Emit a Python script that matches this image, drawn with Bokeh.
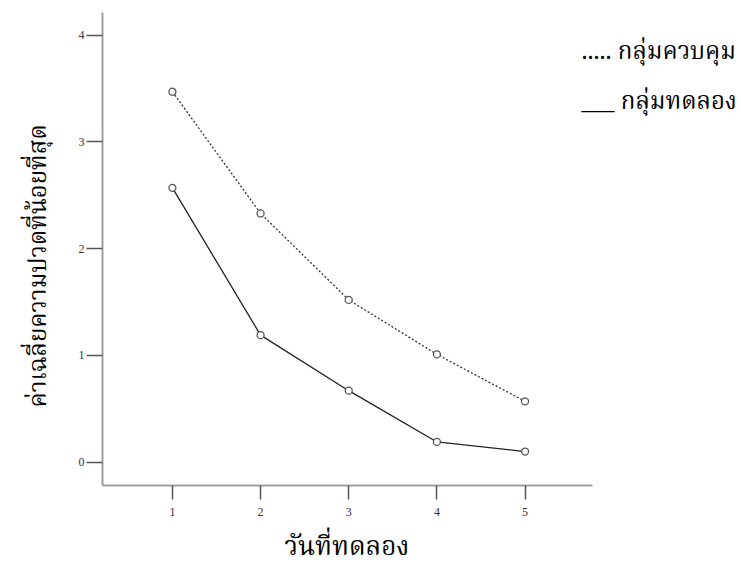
from bokeh.plotting import figure
from bokeh.models import Range1d, FixedTicker, Label, Title
from bokeh.embed import file_html
from bokeh.resources import INLINE

days = [1, 2, 3, 4, 5]
control = [3.47, 2.33, 1.52, 1.01, 0.57]
experiment = [2.57, 1.19, 0.67, 0.19, 0.10]
x_ticks = [1, 2, 3, 4, 5]
y_ticks = [0, 1, 2, 3, 4]
x_title = "วันที่ทดลอง"
y_title = "ค่าเฉลี่ยความปวดที่น้อยที่สุด"
legend_control = "..... กลุ่มควบคุม"
legend_exp = "___ กลุ่มทดลอง"

SERIF = "'Liberation Serif', 'Times New Roman', serif"
THAI = "Norasi, 'Noto Serif Thai', 'TH Sarabun New', 'Liberation Serif', serif"

X0, X1 = 0.207, 5.77
PX_PER_UNIT = 88.3
FRAME_W = 741 - 101
x_end = X0 + FRAME_W / PX_PER_UNIT

p = figure(width=741, height=578, output_backend="svg", toolbar_location=None,
           x_range=Range1d(X0, x_end), y_range=Range1d(-0.218, 4.212),
           min_border_left=101, min_border_right=0, min_border_top=12,
           min_border_bottom=93)
p.outline_line_color = None
p.xgrid.visible = False
p.ygrid.visible = False

p.line(days, control, line_color="#333333", line_width=1.3, line_dash="2 2")
p.line(days, experiment, line_color="#222222", line_width=1.3)
p.scatter(days, control, size=7, fill_color="white", line_color="#555555", line_width=1.3)
p.scatter(days, experiment, size=7, fill_color="white", line_color="#555555", line_width=1.3)

for ax in (p.xaxis[0], p.yaxis[0]):
    ax.axis_line_color = "#a0a0a0"
    ax.axis_line_width = 2
    ax.major_tick_line_color = "#555555"
    ax.major_tick_line_width = 1.5
    ax.major_tick_in = 0
    ax.minor_tick_line_color = None
    ax.major_label_text_font = SERIF
    ax.major_label_text_font_size = "12px"
    ax.major_label_text_color = "#333333"

p.xaxis.bounds = (X0, X1)
p.xaxis.ticker = FixedTicker(ticks=x_ticks)
p.yaxis.ticker = FixedTicker(ticks=y_ticks)
p.xaxis.major_tick_out = 14
p.yaxis.major_tick_out = 16
p.xaxis.major_label_standoff = 8
p.yaxis.major_label_standoff = 2

xtitle = Title(text=x_title, align="left", offset=182, text_font=THAI,
               text_font_size="26px", text_font_style="normal",
               text_color="#000000", standoff=12)
p.add_layout(xtitle, "below")

ytitle = Title(text=y_title, align="left", offset=78, text_font=THAI,
               text_font_size="24px", text_font_style="normal",
               text_color="#000000", standoff=34)
p.add_layout(ytitle, "left")

p.add_layout(Label(x=479, y=433, x_units="screen", y_units="screen",
                   text=legend_control, text_font=THAI, text_font_size="24px",
                   text_baseline="alphabetic", text_color="#000000"))
p.add_layout(Label(x=479, y=383, x_units="screen", y_units="screen",
                   text=legend_exp, text_font=THAI, text_font_size="24px",
                   text_baseline="alphabetic", text_color="#000000"))

open("out.html", "w").write(file_html(p, INLINE))
